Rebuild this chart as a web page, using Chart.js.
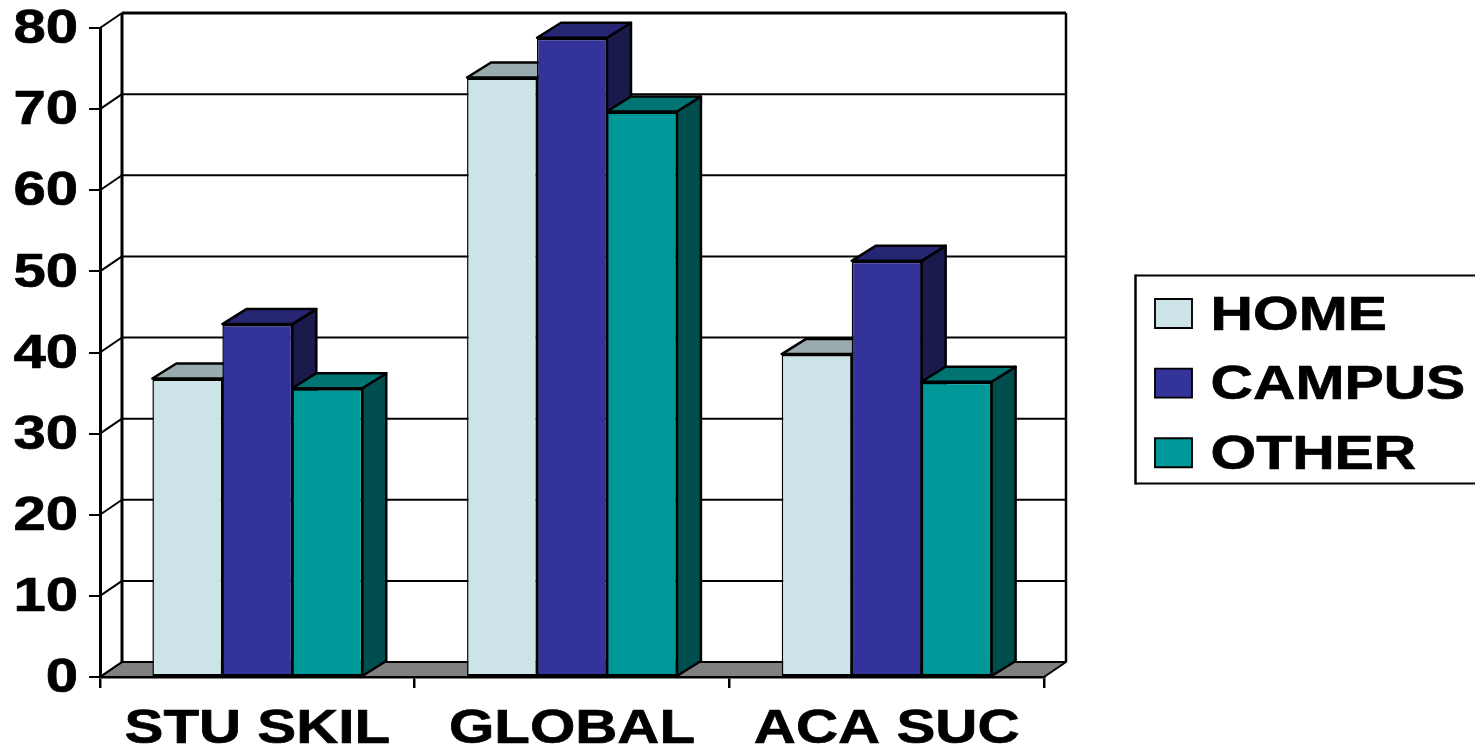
<!DOCTYPE html>
<html>
<head>
<meta charset="utf-8">
<title>HOME, CAMPUS and OTHER by category</title>
<script src="https://cdn.jsdelivr.net/npm/chart.js@4"></script>
<style>
  html, body { margin: 0; padding: 0; background: #fff; overflow: hidden; }
  canvas { display: block; }
</style>
</head>
<body>
<canvas id="chart" width="1475" height="750"></canvas>
<script>
const categories = ['STU SKIL', 'GLOBAL', 'ACA SUC'];
const home = [36.8, 73.9, 39.8];
const campus = [43.5, 78.8, 51.3];
const other = [35.6, 69.7, 36.4];

const seriesNames = ['HOME', 'CAMPUS', 'OTHER'];
const frontColors = ['#CCE4E8', '#333399', '#009999'];
const topColors = ['#99ABAE', '#262673', '#007373'];
const sideColors = ['#667274', '#1A1A4D', '#004D4D'];

const FONT = { family: '"Liberation Sans", Arial, sans-serif', weight: 'bold', size: 48 };
const WALL_DX = 22, WALL_DY = 15;
const BAR_DX = 24, BAR_DY = 15;

// Per-alignment lettering tweaks: legend text is left aligned, y ticks right, x ticks centred.
const TEXT_STYLE = {
  left: { stretch: 1.225, dx: -5.5, dy: 3 },
  right: { stretch: 1.21, dx: 0, dy: 2 },
  center: { stretch: 1.215, dx: 0, dy: 0 }
};
const TEXT_EMBOLDEN = 0.7;

function polygon(ctx, pts, fill) {
  ctx.beginPath();
  pts.forEach((p, i) => i ? ctx.lineTo(p[0], p[1]) : ctx.moveTo(p[0], p[1]));
  ctx.closePath();
  if (fill) { ctx.fillStyle = fill; ctx.fill(); }
  ctx.stroke();
}

function line(ctx, x1, y1, x2, y2, w) {
  ctx.lineWidth = w;
  ctx.beginPath();
  ctx.moveTo(x1, y1);
  ctx.lineTo(x2, y2);
  ctx.stroke();
}

// Wide, heavy lettering for every label the library renders, anchored at its own x.
const wideText = {
  id: 'wideText',
  beforeInit(chart) {
    const ctx = chart.ctx;
    const plainFill = ctx.fillText.bind(ctx);
    const plainStroke = ctx.strokeText.bind(ctx);
    ctx.fillText = function (text, x, y) {
      const s = TEXT_STYLE[ctx.textAlign] || TEXT_STYLE.center;
      ctx.save();
      ctx.translate(x + s.dx, y + s.dy);
      ctx.scale(s.stretch, 1);
      ctx.strokeStyle = ctx.fillStyle;
      ctx.lineWidth = TEXT_EMBOLDEN;
      ctx.lineJoin = 'round';
      plainStroke(text, 0, 0);
      plainFill(text, 0, 0);
      ctx.restore();
    };
  }
};

// Back wall, side wall and floor, positioned from the axis scales.
const chartBox = {
  id: 'chartBox',
  beforeDraw(chart) {
    const { ctx, chartArea: a, scales: { y } } = chart;
    const base = y.getPixelForValue(0);
    const top = y.getPixelForValue(y.max);
    ctx.save();
    ctx.strokeStyle = '#000';
    ctx.lineJoin = 'round';
    ctx.lineWidth = 2;
    polygon(ctx, [[a.left, base], [a.left + WALL_DX, base - WALL_DY],
      [a.right + WALL_DX, base - WALL_DY], [a.right, base]], '#808080');
    y.ticks.forEach(t => {
      const py = y.getPixelForValue(t.value);
      line(ctx, a.left, py, a.left + WALL_DX, py - WALL_DY, 2);
      if (t.value > 0) {
        line(ctx, a.left + WALL_DX, py - WALL_DY, a.right + WALL_DX, py - WALL_DY, t.value === y.max ? 3 : 2);
      }
    });
    line(ctx, a.left + WALL_DX, top - WALL_DY, a.left + WALL_DX, base - WALL_DY, 3);
    line(ctx, a.right + WALL_DX, top - WALL_DY, a.right + WALL_DX, base - WALL_DY, 2.5);
    ctx.restore();

    // The legend sits to the right of the plot, in its own frame.
    const lg = chart.legend;
    lg.left = 1133.4; lg.right = 1475; lg.top = 267.9; lg.bottom = 750;
  },
  afterDraw(chart) {
    const ctx = chart.ctx;
    ctx.save();
    ctx.strokeStyle = '#000';
    line(ctx, 1135.5, 275.5, 1475, 275.5, 2);
    line(ctx, 1135.5, 483.5, 1475, 483.5, 2);
    line(ctx, 1135.5, 274.5, 1135.5, 484.5, 2.5);
    ctx.restore();
  }
};

// Extruded bars: each bar gets its side and top faces, then its library-drawn front.
const extrudedBars = {
  id: 'extrudedBars',
  beforeDatasetsDraw(chart) {
    const ctx = chart.ctx;
    ctx.save();
    ctx.strokeStyle = '#000';
    ctx.lineWidth = 2.5;
    ctx.lineJoin = 'round';
    categories.forEach((_, c) => {
      chart.data.datasets.forEach((ds, d) => {
        const bar = chart.getDatasetMeta(d).data[c];
        const p = bar.getProps(['x', 'y', 'base', 'width'], true);
        const l = p.x - p.width / 2, r = p.x + p.width / 2;
        polygon(ctx, [[r, p.y], [r + BAR_DX, p.y - BAR_DY], [r + BAR_DX, p.base - BAR_DY], [r, p.base]], sideColors[d]);
        polygon(ctx, [[l, p.y], [l + BAR_DX, p.y - BAR_DY], [r + BAR_DX, p.y - BAR_DY], [r, p.y]], topColors[d]);
        bar.draw(ctx);
      });
    });
    ctx.restore();
  },
  beforeDatasetDraw() { return false; }
};

function noEdgePadding(scale) {
  scale.paddingTop = scale.paddingBottom = scale.paddingLeft = scale.paddingRight = 0;
}

new Chart(document.getElementById('chart'), {
  type: 'bar',
  data: {
    labels: categories,
    datasets: [home, campus, other].map((values, i) => ({
      label: seriesNames[i],
      data: values,
      backgroundColor: frontColors[i],
      borderColor: '#000',
      borderWidth: { left: 1.5, right: 1.5, top: 2.5, bottom: 2 },
      borderSkipped: false,
      categoryPercentage: 0.667,
      barPercentage: 1
    }))
  },
  options: {
    responsive: false,
    animation: false,
    layout: { padding: { top: 28, right: 431, bottom: 0, left: 0 } },
    scales: {
      x: {
        afterFit(scale) { scale.height = 73; noEdgePadding(scale); },
        grid: { drawOnChartArea: false, color: '#000', lineWidth: 2.5, tickLength: 11 },
        border: { display: true, color: '#000', width: 2.5 },
        ticks: { color: '#000', font: FONT, padding: 13, autoSkip: false, maxRotation: 0 }
      },
      y: {
        min: 0,
        max: 80,
        afterFit(scale) { scale.width = 100; noEdgePadding(scale); },
        grid: { drawOnChartArea: false, color: '#000', lineWidth: 2, tickLength: 11 },
        border: { display: true, color: '#000', width: 3 },
        ticks: { color: '#000', font: FONT, stepSize: 10, padding: 11 }
      }
    },
    plugins: {
      tooltip: { enabled: false },
      title: { display: false },
      legend: {
        display: true,
        position: 'chartArea',
        align: 'start',
        labels: { color: '#000', font: FONT, boxWidth: 37, boxHeight: 29, padding: 21.6 }
      }
    }
  },
  plugins: [wideText, chartBox, extrudedBars]
});
</script>
</body>
</html>
